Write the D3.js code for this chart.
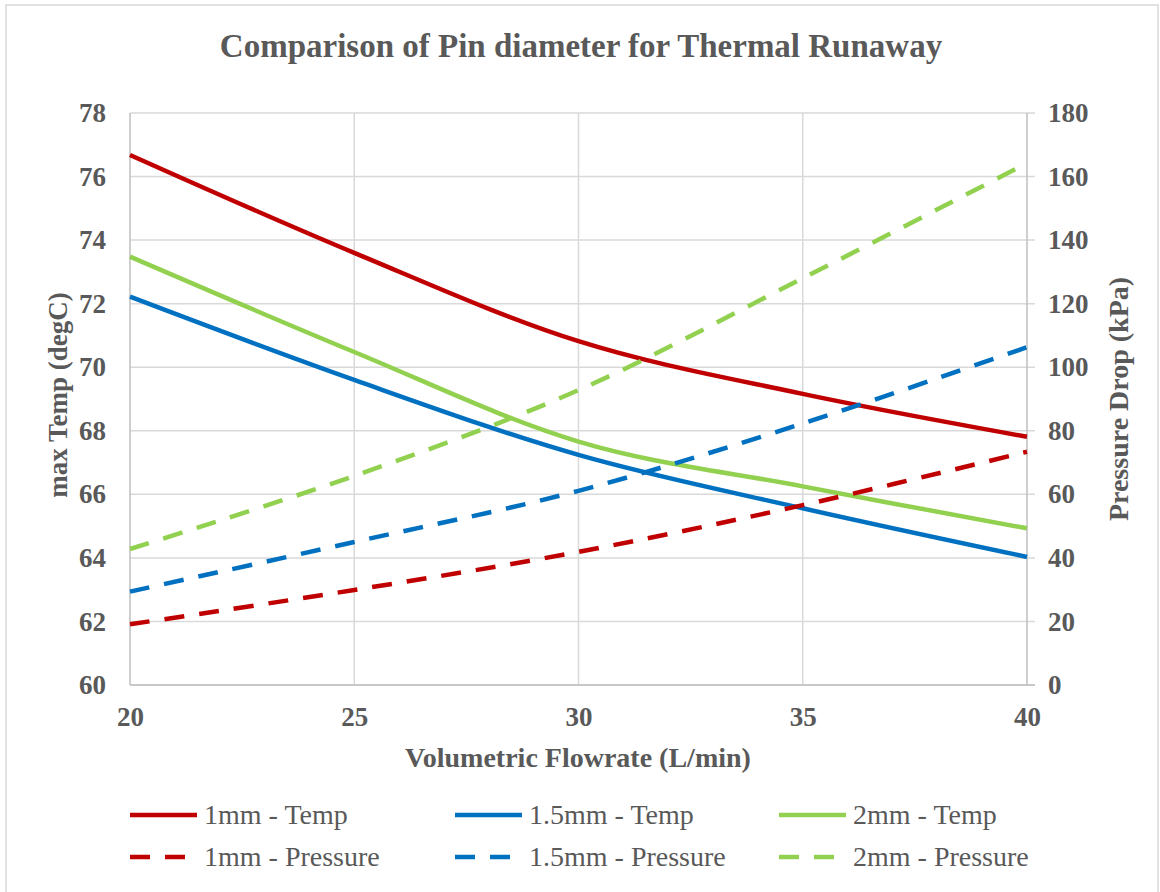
<!DOCTYPE html>
<html>
<head>
<meta charset="utf-8">
<script src="https://cdn.jsdelivr.net/npm/d3@7"></script>
<style>
  html, body { margin: 0; padding: 0; background: #fff; }
  svg { display: block; }
  text { font-family: "Liberation Serif", "Times New Roman", serif; fill: #595959; }
</style>
</head>
<body>
<svg id="chart" width="1160" height="892"></svg>
<script>
// Flow rates (L/min)
const flowrates = [20, 25, 30, 35, 40];

// Maximum temperature (degC) per pin diameter
const temp1mm   = [76.68, 73.60, 70.82, 69.16, 67.81];
const temp15mm  = [72.22, 69.60, 67.24, 65.56, 64.03];
const temp2mm   = [73.48, 70.48, 67.66, 66.25, 64.93];

// Pressure drop (kPa) per pin diameter
const press1mm  = [19.1, 29.9, 41.9, 56.6, 73.4];
const press15mm = [29.4, 45.0, 61.1, 82.3, 106.3];
const press2mm  = [42.8, 65.8, 92.8, 128.0, 164.2];

const xTicks = [20, 25, 30, 35, 40];
const tempTicks = [60, 62, 64, 66, 68, 70, 72, 74, 76, 78];
const pressTicks = [0, 20, 40, 60, 80, 100, 120, 140, 160, 180];

const series = [
  { name: "1mm - Temp",        values: temp1mm,   axis: "left",  color: "#C00000", dashed: false },
  { name: "1.5mm - Temp",      values: temp15mm,  axis: "left",  color: "#0070C0", dashed: false },
  { name: "2mm - Temp",        values: temp2mm,   axis: "left",  color: "#92D050", dashed: false },
  { name: "1mm - Pressure",    values: press1mm,  axis: "right", color: "#C00000", dashed: true },
  { name: "1.5mm - Pressure",  values: press15mm, axis: "right", color: "#0070C0", dashed: true },
  { name: "2mm - Pressure",    values: press2mm,  axis: "right", color: "#92D050", dashed: true }
];

const svg = d3.select("#chart");
const plot = { left: 130, right: 1027, top: 113, bottom: 685 };
const serif = "'Liberation Serif', 'Times New Roman', serif";

// outer frame
svg.append("rect")
  .attr("x", 6).attr("y", 5).attr("width", 1152).attr("height", 900)
  .attr("fill", "#fff").attr("stroke", "#d9d9d9").attr("stroke-width", 1.5);

const x = d3.scaleLinear().domain([20, 40]).range([plot.left, plot.right]);
const yL = d3.scaleLinear().domain([60, 78]).range([plot.bottom, plot.top]);
const yR = d3.scaleLinear().domain([0, 180]).range([plot.bottom, plot.top]);

// horizontal gridlines (extend into the right axis tick marks)
svg.append("g")
  .selectAll("line")
  .data(tempTicks)
  .join("line")
  .attr("x1", plot.left).attr("x2", plot.right + 8)
  .attr("y1", d => yL(d)).attr("y2", d => yL(d))
  .attr("stroke", "#d9d9d9").attr("stroke-width", 1.5);

// vertical gridlines
svg.append("g")
  .selectAll("line")
  .data(xTicks.slice(1, -1))
  .join("line")
  .attr("x1", d => x(d)).attr("x2", d => x(d))
  .attr("y1", plot.top).attr("y2", plot.bottom)
  .attr("stroke", "#d9d9d9").attr("stroke-width", 1.5);

// axis lines
const axisColor = "#bfbfbf";
svg.append("line").attr("x1", plot.left).attr("x2", plot.left)
  .attr("y1", plot.top).attr("y2", plot.bottom)
  .attr("stroke", axisColor).attr("stroke-width", 1.5);
svg.append("line").attr("x1", plot.right).attr("x2", plot.right)
  .attr("y1", plot.top).attr("y2", plot.bottom)
  .attr("stroke", axisColor).attr("stroke-width", 1.5);
svg.append("line").attr("x1", plot.left).attr("x2", plot.right + 8)
  .attr("y1", plot.bottom).attr("y2", plot.bottom)
  .attr("stroke", axisColor).attr("stroke-width", 1.5);

const tickFont = `bold 27px ${serif}`;

// left axis
const leftAxis = svg.append("g")
  .attr("transform", `translate(${plot.left},0)`)
  .call(d3.axisLeft(yL).tickValues(tempTicks).tickSize(0).tickPadding(24));
// right axis
const rightAxis = svg.append("g")
  .attr("transform", `translate(${plot.right},0)`)
  .call(d3.axisRight(yR).tickValues(pressTicks).tickSize(0).tickPadding(21));
// bottom axis
const bottomAxis = svg.append("g")
  .attr("transform", `translate(0,${plot.bottom})`)
  .call(d3.axisBottom(x).tickValues(xTicks).tickSize(0).tickPadding(22));

[leftAxis, rightAxis, bottomAxis].forEach(g => {
  g.select(".domain").remove();
  g.selectAll("text")
    .style("font", tickFont)
    .attr("fill", "#595959");
});

// series lines
const lineL = d3.line().x((d, i) => x(flowrates[i])).y(d => yL(d)).curve(d3.curveCardinal.tension(0));
const lineR = d3.line().x((d, i) => x(flowrates[i])).y(d => yR(d)).curve(d3.curveCardinal.tension(0));

svg.append("g")
  .selectAll("path")
  .data(series)
  .join("path")
  .attr("d", s => (s.axis === "left" ? lineL : lineR)(s.values))
  .attr("fill", "none")
  .attr("stroke", s => s.color)
  .attr("stroke-width", 4.5)
  .attr("stroke-dasharray", s => s.dashed ? "20,15" : null);

// title
svg.append("text")
  .attr("x", 581).attr("y", 57)
  .attr("text-anchor", "middle")
  .style("font", `bold 33px ${serif}`)
  .text("Comparison of Pin diameter for Thermal Runaway");

// axis titles
svg.append("text")
  .attr("x", 578).attr("y", 767)
  .attr("text-anchor", "middle")
  .style("font", `bold 28px ${serif}`)
  .text("Volumetric Flowrate (L/min)");

svg.append("text")
  .attr("transform", "translate(67,395) rotate(-90)")
  .attr("text-anchor", "middle")
  .style("font", `bold 27px ${serif}`)
  .text("max Temp (degC)");

svg.append("text")
  .attr("transform", "translate(1128,399) rotate(-90)")
  .attr("text-anchor", "middle")
  .style("font", `bold 28px ${serif}`)
  .text("Pressure Drop (kPa)");

// legend: 3 columns x 2 rows
const legendCols = [130, 455, 779];
const legendRows = [815, 857];
const legend = svg.append("g")
  .selectAll("g")
  .data(series)
  .join("g")
  .attr("transform", (s, i) => `translate(${legendCols[i % 3]},${legendRows[Math.floor(i / 3)]})`);

legend.append("line")
  .attr("x1", 0).attr("x2", 67)
  .attr("y1", 0).attr("y2", 0)
  .attr("stroke", s => s.color)
  .attr("stroke-width", 4.5)
  .attr("stroke-dasharray", s => s.dashed ? "20,15" : null);

legend.append("text")
  .attr("x", 74).attr("y", 9)
  .style("font", `28px ${serif}`)
  .text(s => s.name);
</script>
</body>
</html>
